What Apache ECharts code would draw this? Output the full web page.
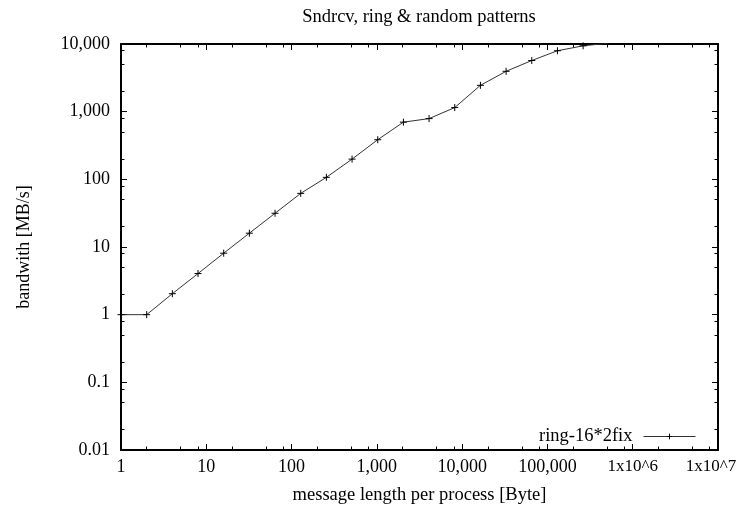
<!DOCTYPE html>
<html>
<head>
<meta charset="utf-8">
<script src="https://cdn.jsdelivr.net/npm/echarts@6/dist/echarts.min.js"></script>
<style>html,body{margin:0;padding:0;background:#fff}#c{width:740px;height:508px}</style>
</head>
<body>
<div id="c"></div>
<script>
const messageLength = [1, 2, 4, 8, 16, 32, 64, 128, 256, 512, 1024, 2048, 4096, 8192, 16384, 32768, 65536, 131072, 262144, 524288];
const bandwidth = [1, 1, 2.04, 4.05, 8.1, 16, 31.5, 62, 107, 199, 385, 700, 790, 1150, 2450, 3950, 5700, 7950, 9400, 10300];
const xMajorTicks = [1, 10, 100, 1000, 10000, 100000, 1000000, 10000000];
const xMinorTicks = [2, 5, 8, 20, 50, 80, 200, 500, 800, 2000, 5000, 8000, 20000, 50000, 80000, 200000, 500000, 800000, 2000000, 5000000, 8000000];
const yMajorTicks = [0.01, 0.1, 1, 10, 100, 1000, 10000];
const yMinorTicks = [0.02, 0.05, 0.08, 0.2, 0.5, 0.8, 2, 5, 8, 20, 50, 80, 200, 500, 800, 2000, 5000, 8000];
const seriesName = 'ring-16*2fix';

const FONT = 'Liberation Serif';
function fmtNum(v) {
  const r = Number(v.toPrecision(6));
  if (r >= 10000000) return '{e7|1x10^' + Math.round(Math.log10(r)) + '}';
  if (r >= 1000000) return '{e|1x10^' + Math.round(Math.log10(r)) + '}';
  if (r >= 1) return r.toLocaleString('en-US');
  return String(r);
}
function makeAxis(kind, position, ticks, major, withLabels, extra) {
  const isX = kind === 'x';
  const ax = {
    type: 'log', logBase: 10, position: position,
    min: isX ? 1 : 0.01, max: isX ? 10000000 : 10000,
    axisLine: { show: major, lineStyle: { color: '#000', width: 2 } },
    axisTick: { show: true, inside: true, length: major ? 6 : 3.5, customValues: ticks, lineStyle: { color: '#000', width: 1 } },
    axisLabel: { show: withLabels, customValues: withLabels ? ticks : undefined, formatter: fmtNum,
      color: '#000', fontFamily: FONT, fontSize: 18, margin: isX ? 8 : 11,
      rich: {
        e: { fontFamily: FONT, fontSize: 17, color: '#000' },
        e7: { fontFamily: FONT, fontSize: 17, color: '#000', padding: [0, 14, 0, 0] }
      } },
    splitLine: { show: false }, minorTick: { show: false }, minorSplitLine: { show: false }
  };
  return Object.assign(ax, extra || {});
}
const chart = echarts.init(document.getElementById('c'), null, { renderer: 'canvas' });
chart.setOption({
  animation: false,
  backgroundColor: '#fff',
  title: { text: 'Sndrcv, ring & random patterns', left: 414, textAlign: 'center', top: 3,
    textStyle: { fontFamily: FONT, fontSize: 18.5, fontWeight: 'normal', color: '#000' } },
  grid: { left: 121, right: 22, top: 44, bottom: 58, containLabel: false, outerBoundsMode: 'none' },
  legend: { show: true, right: 39, top: 422, align: 'right', itemWidth: 52, itemHeight: 7,
    textStyle: { fontFamily: FONT, fontSize: 18.5, color: '#000', padding: [0, 6, 0, 0] },
    lineStyle: { width: 1, color: '#333' },
    itemStyle: { color: 'none', borderColor: '#000', borderWidth: 1 },
    data: [{ name: seriesName }] },
  xAxis: [
    makeAxis('x', 'bottom', xMajorTicks, true, true, { name: 'message length per process [Byte]', nameLocation: 'middle', nameGap: 36,
      nameTextStyle: { fontFamily: FONT, fontSize: 18.5, color: '#000' } }),
    makeAxis('x', 'bottom', xMinorTicks, false, false),
    makeAxis('x', 'top', xMajorTicks, true, false),
    makeAxis('x', 'top', xMinorTicks, false, false)
  ],
  yAxis: [
    makeAxis('y', 'left', yMajorTicks, true, true, { name: 'bandwith [MB/s]', nameLocation: 'middle', nameGap: 88, nameRotate: 90,
      nameTextStyle: { fontFamily: FONT, fontSize: 18, color: '#000' } }),
    makeAxis('y', 'left', yMinorTicks, false, false),
    makeAxis('y', 'right', yMajorTicks, true, false),
    makeAxis('y', 'right', yMinorTicks, false, false)
  ],
  series: [{
    name: seriesName, type: 'line', xAxisIndex: 0, yAxisIndex: 0,
    data: messageLength.map((x, i) => [x, bandwidth[i]]),
    symbol: 'path://M-5,0L5,0M0,-5L0,5', symbolSize: 7,
    itemStyle: { color: 'none', borderColor: '#000', borderWidth: 1 },
    lineStyle: { color: '#333', width: 1 },
    clip: true
  }]
});
</script>
</body>
</html>
